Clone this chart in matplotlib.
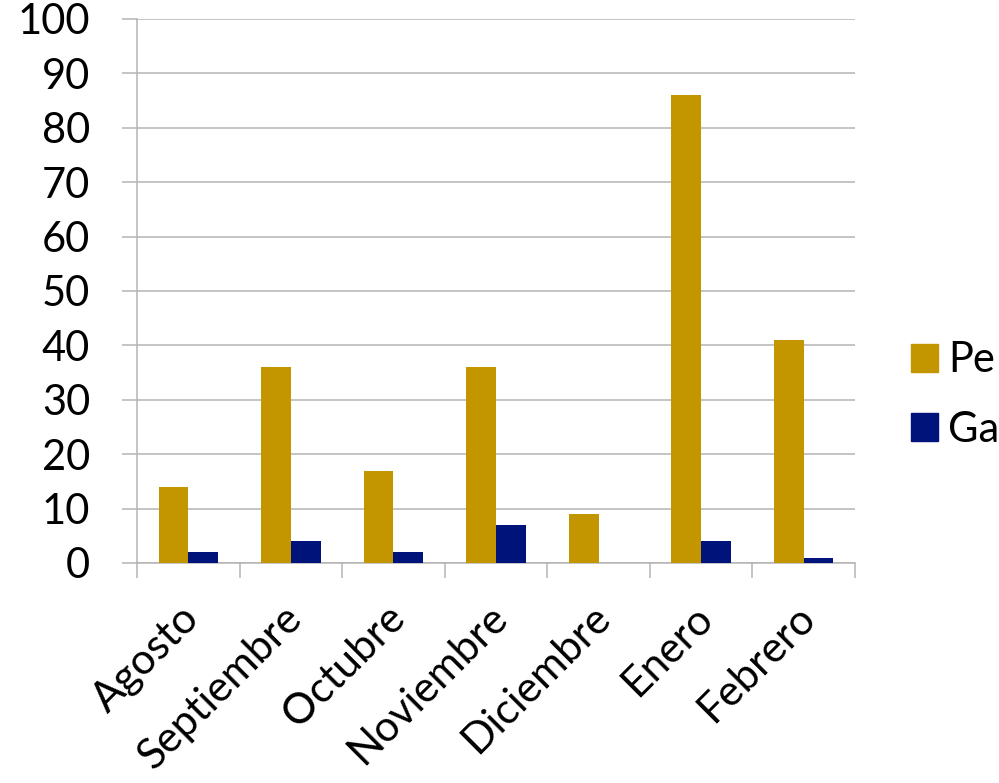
import matplotlib
matplotlib.use("Agg")
import matplotlib.pyplot as plt
import numpy as np
from matplotlib.patches import Patch
from matplotlib.transforms import ScaledTranslation

months = ["Agosto", "Septiembre", "Octubre", "Noviembre", "Diciembre", "Enero", "Febrero"]
series_names = ["Pe", "Ga"]
perdidos = [14, 36, 17, 36, 9, 86, 41]
ganados = [2, 4, 2, 7, 0, 4, 1]
yticks = [0, 10, 20, 30, 40, 50, 60, 70, 80, 90, 100]

gold = "#C39600"
navy = "#00137A"
grid_c = "#B4B4B4"

plt.rcParams['font.family'] = ['Lato', 'DejaVu Sans']

fig = plt.figure(figsize=(9.99, 7.83), dpi=100)
ax = fig.add_axes([137/999, 1-563/783, (855-137)/999, (563-19)/783])

x = np.arange(len(months))
w = 0.29
ax.bar(x - w/2, perdidos, width=w, color=gold, zorder=3)
ax.bar(x + w/2, ganados, width=w, color=navy, zorder=3)

ax.set_xlim(-0.5, len(months) - 0.5)
ax.set_ylim(0, 100)
ax.set_yticks(yticks)
ax.set_yticklabels([str(t) for t in yticks], fontsize=30)
ax.yaxis.grid(True, color=grid_c, linewidth=1.1, zorder=0)
ax.tick_params(axis='y', length=10.8, width=1.1, color=grid_c, pad=23)

ax.set_xticks(np.arange(len(months) + 1) - 0.5)
ax.set_xticklabels([])
ax.tick_params(axis='x', which='major', length=10.5, width=1.1, color=grid_c)
ax.set_xticks(x, minor=True)
ax.set_xticklabels(months, minor=True, fontsize=30.5, rotation=45, ha='right',
                   va='center', rotation_mode='anchor')
ax.tick_params(axis='x', which='minor', length=0, pad=35)
for lab in ax.get_xticklabels(minor=True):
    lab.set_transform(lab.get_transform() + ScaledTranslation(0.05, 0, fig.dpi_scale_trans))

for s in ['top', 'right']:
    ax.spines[s].set_visible(False)
ax.spines['left'].set_color(grid_c)
ax.spines['left'].set_linewidth(1.1)
ax.spines['bottom'].set_color(grid_c)
ax.spines['bottom'].set_linewidth(1.1)

handles = [Patch(color=gold), Patch(color=navy)]
fig.legend(handles, series_names, loc='center left',
           bbox_to_anchor=(911/999, 1-395/783), frameon=False, fontsize=30,
           handlelength=0.65, handleheight=0.65, handletextpad=0.25,
           labelspacing=0.75, borderpad=0, borderaxespad=0)

fig.savefig("out.png", dpi=100)
